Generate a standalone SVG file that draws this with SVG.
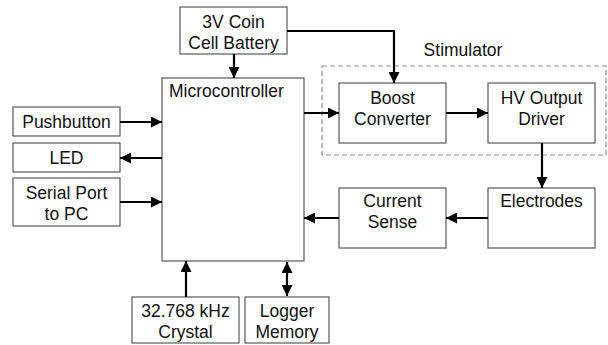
<svg xmlns="http://www.w3.org/2000/svg" width="608" height="345" viewBox="0 0 608 345">
<defs>
<marker id="ah" markerUnits="userSpaceOnUse" markerWidth="11" markerHeight="11" refX="10" refY="5" orient="auto-start-reverse" viewBox="0 0 10 10">
<path d="M0,0 L10,5 L0,10 z" fill="#000"/>
</marker>
</defs>
<style>
.box{fill:#fff;stroke:#595959;stroke-width:1.2}
.dash{fill:none;stroke:#8c8c8c;stroke-width:1.2;stroke-dasharray:5,3}
text{font-family:"Liberation Sans",Arial,sans-serif;font-size:17.5px;fill:#111}
.c{text-anchor:middle}
.arr{fill:none;stroke:#000;stroke-width:2.2;marker-end:url(#ah)}
.dbl{fill:none;stroke:#000;stroke-width:2.2;marker-end:url(#ah);marker-start:url(#ah)}
</style>
<rect width="608" height="345" fill="#fff"/>
<g id="stimulator">
<rect class="dash" x="322" y="66" width="284" height="89"/>
<text class="c" x="463" y="56">Stimulator</text>
</g>
<g id="battery">
<rect class="box" x="180" y="7" width="107" height="47"/>
<text class="c" x="233.5" y="28">3V Coin</text>
<text class="c" x="233.5" y="49">Cell Battery</text>
</g>
<g id="microcontroller">
<rect class="box" x="162" y="78" width="142" height="183"/>
<text x="169" y="97">Microcontroller</text>
</g>
<g id="pushbutton">
<rect class="box" x="13" y="107" width="107" height="29"/>
<text class="c" x="66.5" y="128">Pushbutton</text>
</g>
<g id="led">
<rect class="box" x="13" y="143" width="107" height="29"/>
<text class="c" x="66.5" y="164">LED</text>
</g>
<g id="serial">
<rect class="box" x="13" y="178" width="107" height="48"/>
<text class="c" x="66.5" y="199">Serial Port</text>
<text class="c" x="66.5" y="220">to PC</text>
</g>
<g id="crystal">
<rect class="box" x="132" y="297" width="107" height="46"/>
<text class="c" x="185.5" y="317">32.768 kHz</text>
<text class="c" x="185.5" y="338">Crystal</text>
</g>
<g id="logger">
<rect class="box" x="245" y="297" width="84" height="46"/>
<text class="c" x="287" y="317">Logger</text>
<text class="c" x="287" y="338">Memory</text>
</g>
<g id="boost">
<rect class="box" x="339" y="83" width="107" height="60"/>
<text class="c" x="392.5" y="104">Boost</text>
<text class="c" x="392.5" y="125">Converter</text>
</g>
<g id="hvdriver">
<rect class="box" x="488" y="83" width="107" height="60"/>
<text class="c" x="541.5" y="104">HV Output</text>
<text class="c" x="541.5" y="125">Driver</text>
</g>
<g id="electrodes">
<rect class="box" x="488" y="188" width="107" height="60"/>
<text class="c" x="541.5" y="207">Electrodes</text>
</g>
<g id="currentsense">
<rect class="box" x="339" y="188" width="107" height="60"/>
<text class="c" x="392.5" y="207">Current</text>
<text class="c" x="392.5" y="228">Sense</text>
</g>
<g id="connectors">
<path class="arr" d="M234,54 L234,78"/>
<path class="arr" d="M287,31 L394,31 L394,83"/>
<path class="arr" d="M120,122 L162,122"/>
<path class="arr" d="M162,158 L120,158"/>
<path class="arr" d="M120,202 L162,202"/>
<path class="arr" d="M304,113 L339,113"/>
<path class="arr" d="M446,113 L488,113"/>
<path class="arr" d="M542,143 L542,188"/>
<path class="arr" d="M488,218 L446,218"/>
<path class="arr" d="M339,218 L304,218"/>
<path class="arr" d="M186,297 L186,261"/>
<path class="dbl" d="M287,262 L287,296"/>
</g>
</svg>
